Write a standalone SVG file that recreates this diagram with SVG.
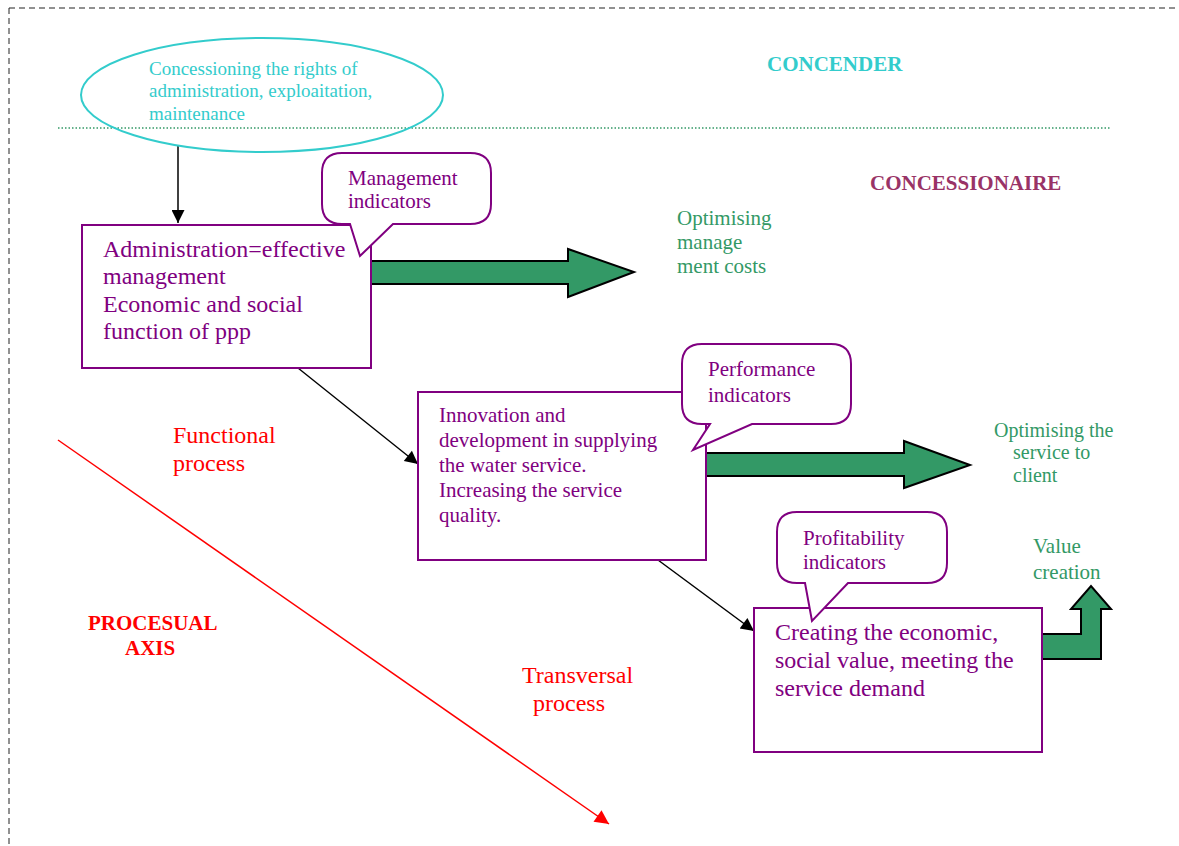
<svg xmlns="http://www.w3.org/2000/svg" width="1179" height="846" viewBox="0 0 1179 846">
<style>
text{font-family:"Liberation Serif","Times New Roman",serif}
.pur{fill:#800080}
.grn{fill:#339966}
.red{fill:#FF0000}
.box{fill:#fff;stroke:#800080;stroke-width:2}
.big{fill:#339966;stroke:#000;stroke-width:2;stroke-linejoin:miter}
.con{stroke:#000;stroke-width:1.5;fill:none}
</style>
<defs>
<marker id="ah" viewBox="0 0 10 10" refX="10" refY="5" markerWidth="15" markerHeight="13" markerUnits="userSpaceOnUse" orient="auto"><path d="M0,0 L10,5 L0,10 z" fill="#000"/></marker>
<marker id="ahr" viewBox="0 0 10 10" refX="10" refY="5" markerWidth="17" markerHeight="14" markerUnits="userSpaceOnUse" orient="auto"><path d="M0,0 L10,5 L0,10 z" fill="#FF0000"/></marker>
</defs>
<rect width="1179" height="846" fill="#fff"/>
<g id="frame">
<line x1="9" y1="8" x2="1179" y2="8" stroke="#222" stroke-width="1" stroke-dasharray="6,4"/>
<line x1="9" y1="8" x2="9" y2="846" stroke="#222" stroke-width="1" stroke-dasharray="6,4"/>
<line x1="58" y1="128" x2="1111" y2="128" stroke="#339966" stroke-width="1.5" stroke-dasharray="1.5,2"/>
</g>
<g id="labels">
<text x="767" y="71" font-size="21" font-weight="bold" fill="#33CCCC">CONCENDER</text>
<text x="870" y="190" font-size="21" font-weight="bold" fill="#993366">CONCESSIONAIRE</text>
<text class="red" font-size="24"><tspan x="173" y="443">Functional</tspan><tspan x="173" y="471">process</tspan></text>
<text class="red" font-size="21" font-weight="bold"><tspan x="88" y="630">PROCESUAL</tspan><tspan x="125" y="655">AXIS</tspan></text>
<text class="red" font-size="24"><tspan x="522" y="683">Transversal</tspan><tspan x="533" y="711">process</tspan></text>
<text class="grn" font-size="21"><tspan x="677" y="225">Optimising</tspan><tspan x="677" y="249">manage</tspan><tspan x="677" y="273">ment costs</tspan></text>
<text class="grn" font-size="20"><tspan x="994" y="437">Optimising the</tspan><tspan x="1013" y="459">service to</tspan><tspan x="1013" y="482">client</tspan></text>
<text class="grn" font-size="21"><tspan x="1033" y="553">Value</tspan><tspan x="1033" y="579">creation</tspan></text>
</g>
<g id="connectors">
<line class="con" x1="178" y1="146" x2="178" y2="223" marker-end="url(#ah)"/>
<line class="con" x1="298" y1="368" x2="418" y2="464" marker-end="url(#ah)"/>
<line class="con" x1="658" y1="560" x2="754" y2="631" marker-end="url(#ah)"/>
<line x1="58" y1="440" x2="609" y2="824" stroke="#FF0000" stroke-width="1.5" marker-end="url(#ahr)"/>
<polygon class="big" points="370,261 568,261 568,249 634,272 568,297 568,284 370,284"/>
<polygon class="big" points="706,453 904,453 904,441 970,465 904,488 904,476 706,476"/>
<polygon class="big" points="1041,634 1081,634 1081,609 1071,609 1091,586 1111,609 1101,609 1101,659 1041,659"/>
</g>
<g id="concender">
<ellipse cx="262" cy="95" rx="181" ry="57" fill="none" stroke="#33CCCC" stroke-width="2"/>
<text font-size="19" fill="#33CCCC"><tspan x="149" y="75">Concessioning the rights of</tspan><tspan x="149" y="97">administration, exploaitation,</tspan><tspan x="149" y="120">maintenance</tspan></text>
</g>
<g id="admin">
<rect class="box" x="82" y="225" width="289" height="143"/>
<text class="pur" font-size="24"><tspan x="103" y="257">Administration=effective</tspan><tspan x="103" y="284">management</tspan><tspan x="103" y="312">Economic and social</tspan><tspan x="103" y="339">function of ppp</tspan></text>
</g>
<g id="mgmt-callout">
<path class="box" d="M342,153 H470 Q491,153 491,173 V204 Q491,224 470,224 H393 L360,256 L350,224 H342 Q322,224 322,204 V173 Q322,153 342,153 Z"/>
<text class="pur" font-size="21"><tspan x="348" y="185">Management</tspan><tspan x="348" y="208">indicators</tspan></text>
</g>
<g id="innovation">
<rect class="box" x="418" y="392" width="288" height="168"/>
<text class="pur" font-size="21"><tspan x="439" y="422">Innovation and</tspan><tspan x="439" y="447">development in supplying</tspan><tspan x="439" y="472">the water service.</tspan><tspan x="439" y="497">Increasing the service</tspan><tspan x="439" y="522">quality.</tspan></text>
</g>
<g id="perf-callout">
<path class="box" d="M702,344 H831 Q851,344 851,364 V404 Q851,424 831,424 H752 L693,450 L710,424 H702 Q682,424 682,404 V364 Q682,344 702,344 Z"/>
<text class="pur" font-size="21"><tspan x="708" y="376">Performance</tspan><tspan x="708" y="402">indicators</tspan></text>
</g>
<g id="creating">
<rect class="box" x="754" y="608" width="288" height="144"/>
<text class="pur" font-size="24"><tspan x="775" y="640">Creating the economic,</tspan><tspan x="775" y="668">social value, meeting the</tspan><tspan x="775" y="696">service demand</tspan></text>
</g>
<g id="profit-callout">
<path class="box" d="M797,512 H927 Q947,512 947,532 V563 Q947,583 927,583 H848 L812,621 L805,583 H797 Q777,583 777,563 V532 Q777,512 797,512 Z"/>
<text class="pur" font-size="21"><tspan x="803" y="545">Profitability</tspan><tspan x="803" y="569">indicators</tspan></text>
</g>
</svg>
